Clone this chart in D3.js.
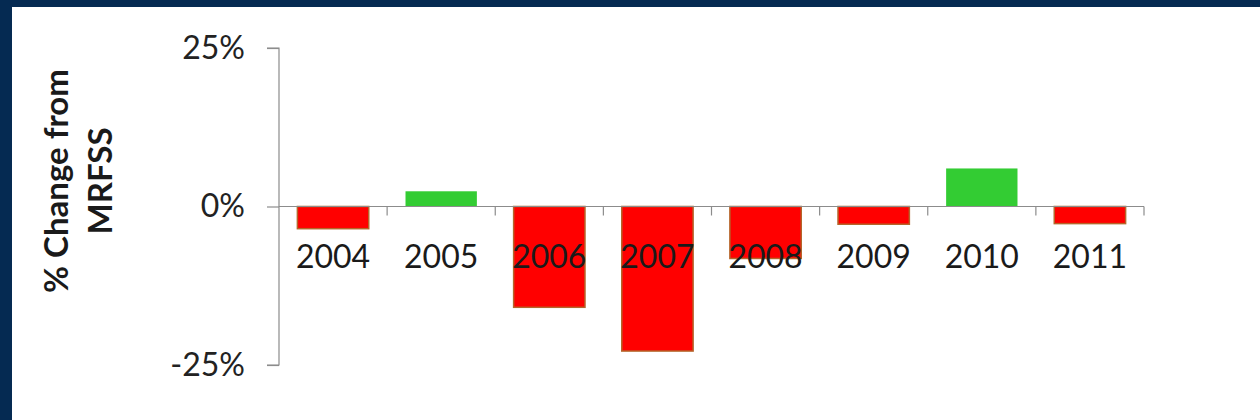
<!DOCTYPE html>
<html>
<head>
<meta charset="utf-8">
<script src="https://cdn.jsdelivr.net/npm/d3@7"></script>
<style>
  body { margin: 0; background: #052a52; }
  svg { display: block; }
</style>
</head>
<body>
<script>
// categories and values (% change from MRFSS)
const years = ["2004", "2005", "2006", "2007", "2008", "2009", "2010", "2011"];
const change = [-3.5, 2.4, -15.9, -22.8, -8.2, -2.8, 6.0, -2.7];
const yTicks = [-25, 0, 25];

const w = 1260;
const h = 420;

var svg = d3.select("body")
            .append("svg")
            .attr("width", w)
            .attr("height", h);

// navy frame, white panel
svg.append("rect").attr("width", w).attr("height", h).attr("fill", "#052a52");
svg.append("rect").attr("x", 12).attr("y", 7)
   .attr("width", w - 12).attr("height", h - 7).attr("fill", "#ffffff");

// scales
var xScale = d3.scaleBand()
               .domain(years)
               .range([279, 1144])
               .paddingInner(0.34)
               .paddingOuter(0.17);
var yScale = d3.scaleLinear()
               .domain([-25, 25])
               .range([365, 48]);

// y axis
var yAxis = svg.append("g")
   .attr("transform", "translate(279,0)")
   .call(d3.axisLeft(yScale).tickValues(yTicks)
           .tickFormat(d => d + "%").tickSize(12).tickPadding(22));
yAxis.select(".domain").attr("stroke", "#8c8c8c").attr("stroke-width", 1.2)
     .attr("d", "M-12," + yScale(25) + "H0V" + yScale(-25) + "H-12");
yAxis.selectAll(".tick line").attr("stroke", "#8c8c8c").attr("stroke-width", 1.2);
yAxis.selectAll(".tick text")
     .style("font-family", "Lato")
     .style("font-size", "32px")
     .attr("fill", "#222");

// bars
svg.selectAll("rect.bar")
   .data(years)
   .enter()
   .append("rect")
   .attr("class", "bar")
   .attr("x", d => xScale(d))
   .attr("width", xScale.bandwidth())
   .attr("y", (d, i) => yScale(Math.max(0, change[i])))
   .attr("height", (d, i) => Math.abs(yScale(change[i]) - yScale(0)))
   .attr("fill", (d, i) => change[i] < 0 ? "#ff0000" : "#33cc33")
   .attr("stroke", (d, i) => change[i] < 0 ? "#b5652a" : "none")
   .attr("stroke-width", 1.5);

// x axis: ticks between categories, pointing down
var step = xScale.step();
var bounds = d3.range(years.length + 1).map(i => 279 + i * step);
svg.append("line")
   .attr("x1", 279).attr("x2", 1144)
   .attr("y1", yScale(0)).attr("y2", yScale(0))
   .attr("stroke", "#8c8c8c").attr("stroke-width", 1.2);
svg.selectAll("line.xtick")
   .data(bounds.slice(1))
   .enter()
   .append("line")
   .attr("class", "xtick")
   .attr("x1", d => d).attr("x2", d => d)
   .attr("y1", yScale(0)).attr("y2", yScale(0) + 9)
   .attr("stroke", "#8c8c8c").attr("stroke-width", 1.2);

// category labels, drawn over the bars
svg.selectAll("text.year")
   .data(years)
   .enter()
   .append("text")
   .attr("class", "year")
   .attr("x", d => xScale(d) + xScale.bandwidth() / 2)
   .attr("y", 268)
   .attr("text-anchor", "middle")
   .style("font-family", "Lato")
   .style("font-size", "32px")
   .attr("fill", "#1a1a1a")
   .text(d => d);

// y axis title
var title = svg.append("text")
   .attr("transform", "translate(0,181) rotate(-90)")
   .attr("text-anchor", "middle")
   .style("font-family", "Lato")
   .style("font-weight", "bold")
   .style("font-size", "33px")
   .attr("fill", "#1a1a1a");
title.append("tspan").attr("x", 0).attr("y", 68).text("% Change from");
title.append("tspan").attr("x", 0).attr("y", 112).text("MRFSS");
</script>
</body>
</html>
